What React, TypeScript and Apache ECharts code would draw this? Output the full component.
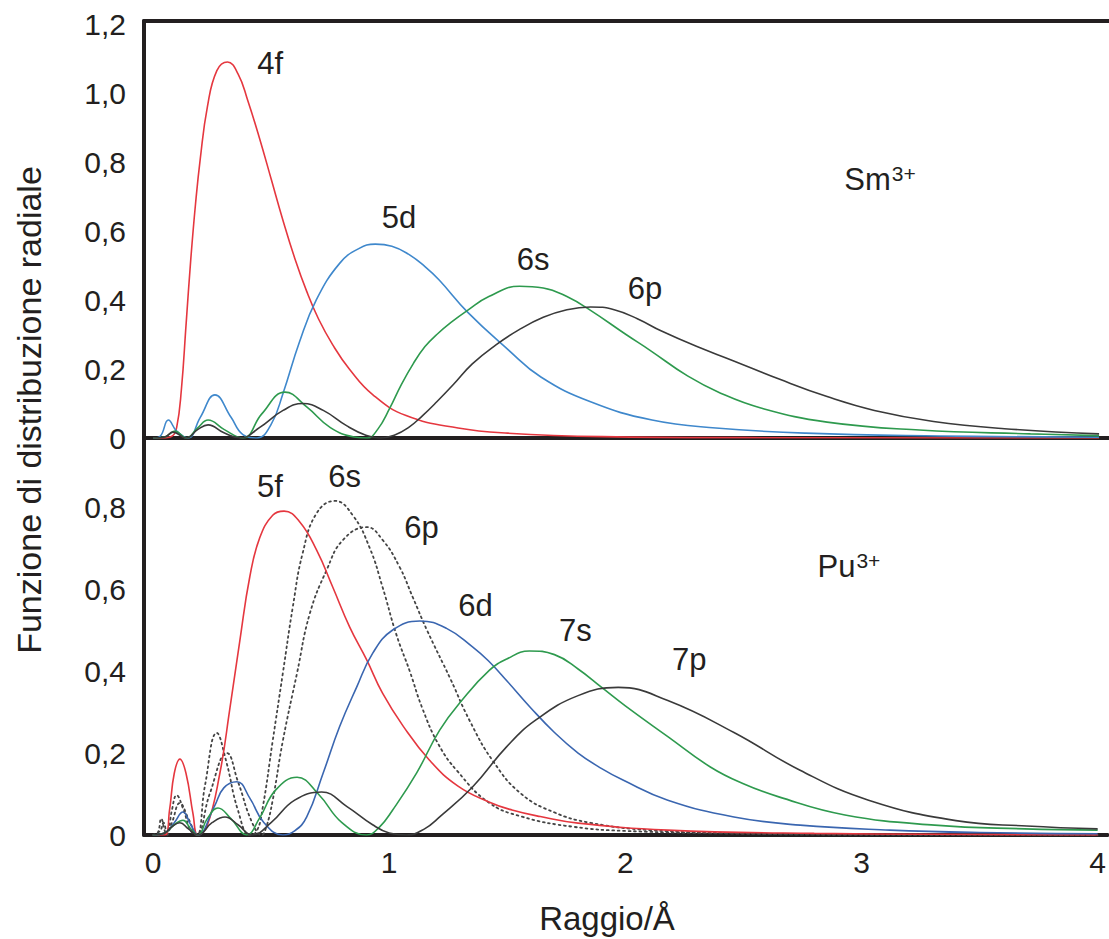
import React, { useEffect, useRef } from "react";
import * as echarts from "echarts";

// ---- Data (x in Å, y = radial distribution) ----
const xTicks = [0, 1, 2, 3, 4];

// Sm3+ panel
const sm4f = [[0,0],[0.04,0],[0.08,0.005],[0.1,0.03],[0.12,0.14],[0.14,0.33],[0.16,0.52],[0.18,0.68],[0.2,0.81],[0.23,0.96],[0.27,1.065],[0.315,1.09],[0.36,1.055],[0.4,0.98],[0.45,0.87],[0.5,0.75],[0.55,0.63],[0.6,0.52],[0.65,0.425],[0.7,0.345],[0.76,0.27],[0.83,0.2],[0.93,0.125],[1.07,0.065],[1.29,0.029],[1.5,0.014],[1.9,0.004],[2.5,0.001],[4.0,0]];
const sm5d = [[0,0],[0.03,0.005],[0.065,0.052],[0.1,0.02],[0.148,0],[0.2,0.06],[0.262,0.125],[0.33,0.06],[0.38,0.01],[0.44,0],[0.5,0.04],[0.55,0.13],[0.62,0.28],[0.69,0.4],[0.79,0.507],[0.87,0.549],[0.94,0.562],[1.01,0.556],[1.08,0.533],[1.15,0.497],[1.21,0.458],[1.33,0.365],[1.5,0.257],[1.64,0.177],[1.85,0.105],[2.11,0.052],[2.38,0.029],[2.76,0.014],[3.33,0.006],[4.0,0.002]];
const sm6s = [[0,0],[0.05,0.003],[0.093,0.02],[0.14,0],[0.19,0.03],[0.233,0.052],[0.3,0.025],[0.38,0],[0.46,0.07],[0.558,0.133],[0.65,0.09],[0.75,0.03],[0.85,0.003],[0.905,0],[0.95,0.025],[1.0,0.085],[1.05,0.155],[1.1,0.215],[1.15,0.265],[1.2,0.3],[1.26,0.335],[1.33,0.37],[1.42,0.41],[1.55,0.44],[1.65,0.435],[1.75,0.41],[1.85,0.37],[2.0,0.3],[2.1,0.255],[2.26,0.18],[2.4,0.13],[2.57,0.087],[2.85,0.046],[3.24,0.023],[3.71,0.012],[4.0,0.007]];
const sm6p = [[0,0],[0.05,0.003],[0.085,0.017],[0.14,0],[0.19,0.025],[0.233,0.038],[0.3,0.015],[0.37,0],[0.45,0.03],[0.55,0.08],[0.634,0.1],[0.72,0.08],[0.82,0.035],[0.9,0.008],[0.96,0],[1.02,0.008],[1.08,0.03],[1.14,0.065],[1.2,0.105],[1.27,0.155],[1.35,0.215],[1.45,0.27],[1.55,0.315],[1.65,0.35],[1.75,0.372],[1.85,0.38],[1.95,0.372],[2.05,0.345],[2.15,0.31],[2.3,0.265],[2.45,0.225],[2.65,0.17],[2.85,0.12],[3.05,0.08],[3.3,0.048],[3.6,0.027],[4.0,0.012]];

// Pu3+ panel
const pu5f = [[0,0],[0.05,0],[0.07,0.06],[0.09,0.15],[0.114,0.185],[0.14,0.15],[0.17,0.05],[0.19,0],[0.228,0.02],[0.283,0.15],[0.326,0.31],[0.368,0.475],[0.41,0.63],[0.452,0.725],[0.507,0.78],[0.555,0.79],[0.62,0.765],[0.693,0.695],[0.761,0.605],[0.833,0.507],[0.905,0.427],[0.972,0.346],[1.06,0.265],[1.17,0.183],[1.29,0.12],[1.425,0.08],[1.52,0.061],[1.64,0.045],[1.8,0.029],[2.18,0.012],[2.8,0.004],[4.0,0]];
const pu6s = [[0,0],[0.02,0.005],[0.035,0.04],[0.05,0.01],[0.06,0],[0.08,0.06],[0.1,0.097],[0.13,0.06],[0.16,0.01],[0.186,0],[0.22,0.12],[0.27,0.249],[0.31,0.18],[0.36,0.06],[0.41,0],[0.44,0.01],[0.465,0.068],[0.507,0.23],[0.55,0.395],[0.592,0.556],[0.634,0.688],[0.693,0.785],[0.77,0.815],[0.846,0.78],[0.918,0.7],[0.972,0.605],[1.03,0.49],[1.087,0.4],[1.14,0.31],[1.21,0.22],[1.29,0.155],[1.42,0.08],[1.56,0.045],[1.78,0.02],[2.0,0.01],[2.5,0.003],[3.0,0.001],[4.0,0]];
const pu6p = [[0,0],[0.03,0.01],[0.045,0.03],[0.06,0.005],[0.08,0.03],[0.114,0.078],[0.15,0.04],[0.186,0],[0.24,0.1],[0.313,0.2],[0.36,0.13],[0.42,0.03],[0.46,0],[0.48,0.02],[0.507,0.085],[0.55,0.23],[0.61,0.395],[0.664,0.54],[0.735,0.646],[0.805,0.72],[0.905,0.751],[0.972,0.72],[1.044,0.654],[1.1,0.58],[1.16,0.5],[1.26,0.38],[1.34,0.28],[1.44,0.18],[1.56,0.1],[1.7,0.055],[1.85,0.03],[2.1,0.012],[2.5,0.004],[3.0,0.001],[4.0,0]];
const pu6d = [[0,0],[0.05,0.005],[0.09,0.03],[0.127,0.056],[0.16,0.025],[0.19,0],[0.26,0.07],[0.3,0.115],[0.355,0.13],[0.41,0.09],[0.47,0.03],[0.55,0],[0.6,0.01],[0.651,0.044],[0.72,0.15],[0.79,0.264],[0.862,0.36],[0.93,0.443],[1.015,0.5],[1.13,0.522],[1.243,0.504],[1.353,0.459],[1.42,0.425],[1.5,0.375],[1.6,0.31],[1.7,0.25],[1.8,0.2],[1.9,0.162],[1.99,0.134],[2.18,0.085],[2.46,0.044],[2.74,0.024],[3.12,0.012],[3.5,0.006],[4.0,0.003]];
const pu7s = [[0,0],[0.05,0.005],[0.09,0.025],[0.127,0.036],[0.16,0.015],[0.19,0],[0.23,0.04],[0.275,0.066],[0.33,0.04],[0.397,0],[0.45,0.04],[0.52,0.11],[0.61,0.141],[0.7,0.1],[0.8,0.03],[0.905,0],[0.96,0.02],[1.015,0.061],[1.116,0.151],[1.214,0.256],[1.31,0.33],[1.425,0.402],[1.5,0.43],[1.594,0.449],[1.7,0.44],[1.8,0.405],[1.9,0.36],[2.0,0.315],[2.18,0.24],[2.36,0.166],[2.5,0.125],[2.65,0.093],[2.93,0.049],[3.31,0.024],[3.69,0.015],[4.0,0.012]];
const pu7p = [[0,0],[0.05,0.005],[0.08,0.02],[0.114,0.03],[0.15,0.015],[0.19,0],[0.25,0.03],[0.305,0.044],[0.36,0.025],[0.42,0],[0.5,0.03],[0.6,0.085],[0.714,0.105],[0.82,0.07],[0.93,0.025],[1.0,0.005],[1.074,0],[1.15,0.015],[1.214,0.044],[1.353,0.117],[1.497,0.215],[1.62,0.28],[1.8,0.34],[1.97,0.36],[2.18,0.328],[2.46,0.25],[2.74,0.158],[3.03,0.085],[3.4,0.035],[3.7,0.022],[4.0,0.015]];

// Curve labels [x, y, text]
const smAnnotations = [[0.495, 1.084, "4f"], [1.04, 0.638, "5d"], [1.607, 0.516, "6s"], [2.08, 0.432, "6p"], [3.074, 0.748, "Sm{sup|3+}"]];
const puAnnotations = [[0.495, 0.849, "5f"], [0.812, 0.873, "6s"], [1.137, 0.749, "6p"], [1.366, 0.559, "6d"], [1.789, 0.498, "7s"], [2.271, 0.427, "7p"], [2.947, 0.654, "Pu{sup|3+}"]];

const xTitle = "Raggio/Å";
const yTitle = "Funzione di distribuzione radiale";

const FONT = "'Liberation Sans', Arial, Helvetica, sans-serif";
const INK = "#231f20";
const RED = "#e5373f";
const BLUE_TOP = "#3f88cc";
const BLUE_BOT = "#3a66b0";
const GREEN = "#2e9a4e";
const BLACK = "#3a3a3a";

const XMIN = -0.038;
const XMAX = 4.042;

function fmtY(v: number) {
  const k = v / 0.2;
  if (Math.abs(k - Math.round(k)) > 1e-6) return "";
  if (Math.abs(v) < 1e-9) return "0";
  return v.toFixed(1).replace(".", ",");
}

function lineSeries(name: string, data: number[][], color: string, xi: number, yi: number, dotted = false) {
  return {
    type: "line",
    name,
    data,
    xAxisIndex: xi,
    yAxisIndex: yi,
    smooth: 0.45,
    showSymbol: false,
    symbol: "none",
    silent: true,
    lineStyle: dotted
      ? { color: "#444", width: 1.8, type: [1.8, 3.6], cap: "round" }
      : { color, width: 1.6 },
    z: dotted ? 3 : 4,
  };
}

function labelSeries(data: any[], xi: number, yi: number) {
  return {
    type: "scatter",
    xAxisIndex: xi,
    yAxisIndex: yi,
    symbolSize: 1,
    silent: true,
    itemStyle: { color: "rgba(255,255,255,0)" },
    data: data.map((d) => ({ value: [d[0], d[1]], name: d[2] })),
    label: {
      show: true,
      position: "top",
      distance: 0,
      align: "center",
      verticalAlign: "middle",
      formatter: (p: any) => p.name,
      color: INK,
      opacity: 1,
      textBorderWidth: 0,
      fontFamily: FONT,
      fontSize: 31,
      rich: {
        sup: { fontSize: 21, fontFamily: FONT, color: INK, verticalAlign: "top", padding: [0, 0, 12, 1] },
      },
    },
    z: 10,
  };
}

const axisLineStyle = { show: true, onZero: false, lineStyle: { color: INK, width: 4 } };
const tickFont = { fontSize: 30, fontFamily: FONT, color: INK };

export default function App() {
  const ref = useRef<HTMLDivElement>(null);
  useEffect(() => {
    document.body.style.margin = "0";
    const chart = echarts.init(ref.current!, null, { renderer: "svg" });
    chart.setOption({
      animation: false,
      backgroundColor: "#ffffff",
      grid: [
        { left: 144, top: 21, width: 965, height: 417 },
        { left: 144, top: 439, width: 965, height: 396 },
      ],
      xAxis: [
        { type: "value", gridIndex: 0, min: XMIN, max: XMAX, axisLine: axisLineStyle, axisTick: { show: false }, axisLabel: { show: false }, splitLine: { show: false } },
        { type: "value", gridIndex: 0, position: "top", min: XMIN, max: XMAX, axisLine: axisLineStyle, axisTick: { show: false }, axisLabel: { show: false }, splitLine: { show: false } },
        {
          type: "value", gridIndex: 1, min: XMIN, max: XMAX, axisLine: axisLineStyle, axisTick: { show: false }, splitLine: { show: false },
          axisLabel: { ...tickFont, customValues: xTicks, margin: 12, formatter: (v: number) => String(v) },
        },
      ],
      yAxis: [
        {
          type: "value", gridIndex: 0, min: 0, max: 1.209, interval: 0.2, axisLine: axisLineStyle, axisTick: { show: false }, splitLine: { show: false },
          axisLabel: { ...tickFont, margin: 18, formatter: fmtY, showMaxLabel: false },
        },
        {
          type: "value", gridIndex: 1, min: 0, max: 0.966, interval: 0.2, axisLine: axisLineStyle, axisTick: { show: false }, splitLine: { show: false },
          axisLabel: { ...tickFont, margin: 18, formatter: fmtY, showMaxLabel: false },
        },
      ],
      graphic: [
        { type: "text", x: 607, y: 918, style: { text: xTitle, font: `33px ${FONT}`, fill: INK, textAlign: "center", textVerticalAlign: "middle" } },
        { type: "text", x: 29, y: 410, rotation: Math.PI / 2, style: { text: yTitle, font: `34px ${FONT}`, fill: INK, textAlign: "center", textVerticalAlign: "middle" } },
      ],
      series: [
        lineSeries("4f", sm4f, RED, 0, 0),
        lineSeries("5d", sm5d, BLUE_TOP, 0, 0),
        lineSeries("6s", sm6s, GREEN, 0, 0),
        lineSeries("6p", sm6p, BLACK, 0, 0),
        lineSeries("6s Pu", pu6s, BLACK, 2, 1, true),
        lineSeries("6p Pu", pu6p, BLACK, 2, 1, true),
        lineSeries("5f", pu5f, RED, 2, 1),
        lineSeries("6d", pu6d, BLUE_BOT, 2, 1),
        lineSeries("7s", pu7s, GREEN, 2, 1),
        lineSeries("7p", pu7p, BLACK, 2, 1),
        labelSeries(smAnnotations, 0, 0),
        labelSeries(puAnnotations, 2, 1),
      ],
    });
    return () => chart.dispose();
  }, []);
  return <div ref={ref} style={{ width: 1109, height: 939 }} />;
}
